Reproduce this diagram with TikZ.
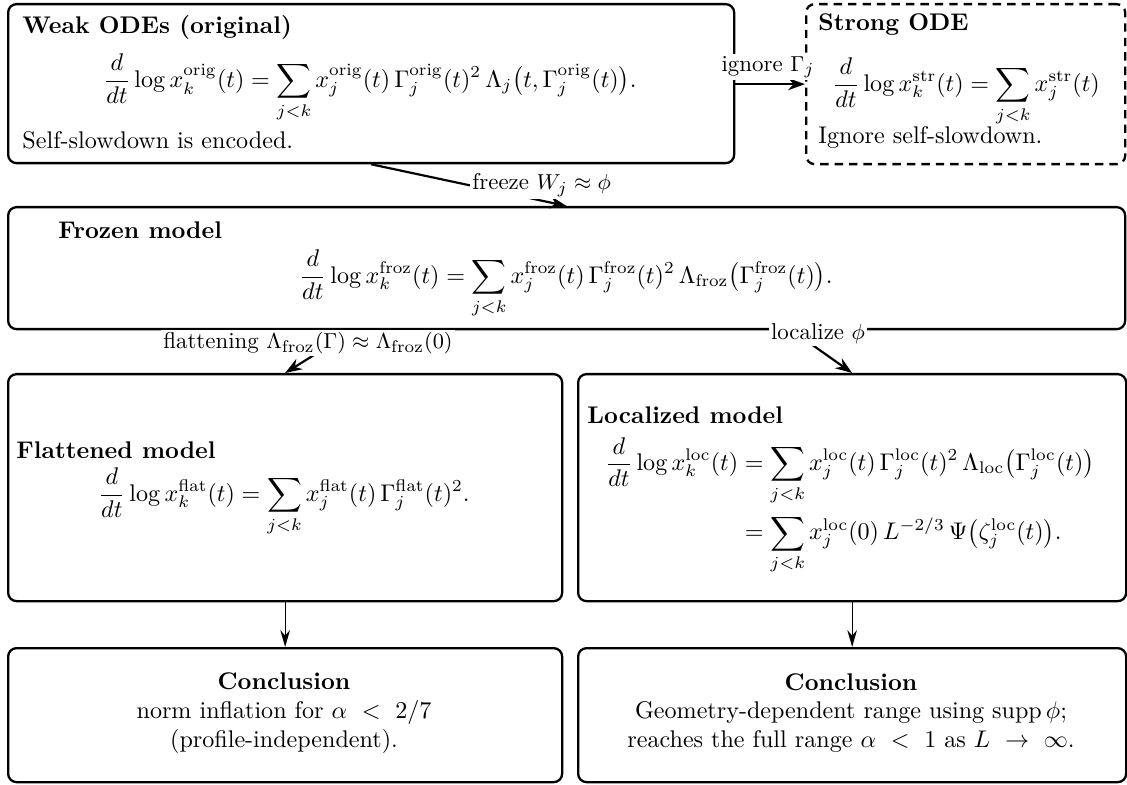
\documentclass[tikz,border=0pt]{standalone}
\usepackage{amsmath}
\usetikzlibrary{arrows.meta}
\newdimen\upx
\upx=0.415pt
\tikzset{
  box/.style={draw, line width=0.95pt, rounded corners=3.5pt, anchor=north west, inner sep=0pt},
  dbox/.style={box, dash pattern=on 3.5pt off 2.5pt},
  lbl/.style={fill=white, inner sep=1pt, font=\fontsize{9.5}{11}\selectfont},
  arr/.style={-{Stealth[length=7pt,width=5pt]}, line width=0.9pt},
  thinarr/.style={-{Stealth[length=7pt,width=4pt]}, line width=0.5pt},
  ttl/.style={anchor=west, font=\bfseries, inner sep=0pt},
  txt/.style={anchor=west, inner sep=0pt},
}
\begin{document}
\begin{tikzpicture}[x=0.415pt,y=-0.415pt]
\useasboundingbox (0,0) rectangle (1127,785);
% boxes
\node[box, minimum width=726*\upx, minimum height=159*\upx] (weak) at (7,3) {};
\node[dbox, minimum width=319*\upx, minimum height=160*\upx] (strong) at (805,3) {};
\node[box, minimum width=1117*\upx, minimum height=122*\upx] (frozen) at (7,206) {};
\node[box, minimum width=554*\upx, minimum height=227*\upx] (flat) at (7,373) {};
\node[box, minimum width=548*\upx, minimum height=227*\upx] (loc) at (577,373) {};
\node[box, minimum width=554*\upx, minimum height=134*\upx] (concL) at (7,647) {};
\node[box, minimum width=548*\upx, minimum height=134*\upx] (concR) at (577,647) {};
% weak
\node[ttl] (weakT) at (22,27) {Weak ODEs (original)};
\node (weakE) at (370,88) {$\displaystyle \frac{d}{dt}\log x_k^{\mathrm{orig}}(t)=\sum_{j<k} x_j^{\mathrm{orig}}(t)\,\Gamma_j^{\mathrm{orig}}(t)^2\,\Lambda_j\bigl(t,\Gamma_j^{\mathrm{orig}}(t)\bigr).$};
\node[txt] (weakS) at (22,140) {Self-slowdown is encoded.};
% strong
\node[ttl] (strT) at (818,25) {Strong ODE};
\node[txt] (strE) at (832,92) {$\displaystyle \frac{d}{dt}\log x_k^{\mathrm{str}}(t)=\sum_{j<k} x_j^{\mathrm{str}}(t)$};
\node[txt] (strS) at (818,137) {Ignore self-slowdown.};
% frozen
\node[ttl] (frzT) at (58,230) {Frozen model};
\node (frzE) at (566,284) {$\displaystyle \frac{d}{dt}\log x_k^{\mathrm{froz}}(t)=\sum_{j<k} x_j^{\mathrm{froz}}(t)\,\Gamma_j^{\mathrm{froz}}(t)^2\,\Lambda_{\mathrm{froz}}\bigl(\Gamma_j^{\mathrm{froz}}(t)\bigr).$};
% flattened
\node[ttl] (flatT) at (16,450) {Flattened model};
\node (flatE) at (284,502) {$\displaystyle \frac{d}{dt}\log x_k^{\mathrm{flat}}(t)=\sum_{j<k} x_j^{\mathrm{flat}}(t)\,\Gamma_j^{\mathrm{flat}}(t)^2.$};
% localized
\node[ttl] (locT) at (587,415) {Localized model};
\node[txt] (locE) at (605,506) {$\displaystyle \begin{aligned}\frac{d}{dt}\log x_k^{\mathrm{loc}}(t)&=\sum_{j<k} x_j^{\mathrm{loc}}(t)\,\Gamma_j^{\mathrm{loc}}(t)^2\,\Lambda_{\mathrm{loc}}\bigl(\Gamma_j^{\mathrm{loc}}(t)\bigr)\\ &=\sum_{j<k} x_j^{\mathrm{loc}}(0)\,L^{-2/3}\,\Psi\bigl(\zeta_j^{\mathrm{loc}}(t)\bigr).\end{aligned}$};
% conclusions
\node[align=center] (cLT) at (284,713) {\textbf{Conclusion}\\ norm inflation for $\alpha\ <\ 2/7$\\ (profile-independent).};
\node[align=center] (cRT) at (851,713) {\textbf{Conclusion}\\ Geometry-dependent range using $\operatorname{supp}\phi$;\\ reaches the full range $\alpha\ <\ 1$ as $L\ \to\ \infty$.};
% connectors
\draw[arr] (weak.east |- strong.west) -- (strong.west);
\node[lbl] (ignL) at (768,67) {ignore $\Gamma_j$};
\draw[arr] (weak.south) -- node[lbl, right, inner sep=1pt] {freeze $W_j\approx\phi$} (frozen.north);
\coordinate (fzA) at ([xshift=-213*\upx]frozen.south);
\coordinate (fzB) at ([xshift=225*\upx]frozen.south);
\draw[arr] (fzA) -- (flat.north);
\draw[arr] (fzB) -- (loc.north);
\node[lbl] (flatL) at (308,343) {flattening $\Lambda_{\mathrm{froz}}(\Gamma)\approx\Lambda_{\mathrm{froz}}(0)$};
\node[lbl] (locL) at (818,334) {localize $\phi$};
\draw[thinarr] (flat.south) -- (concL.north);
\draw[thinarr] (loc.south) -- (concR.north);
\end{tikzpicture}
\end{document}
